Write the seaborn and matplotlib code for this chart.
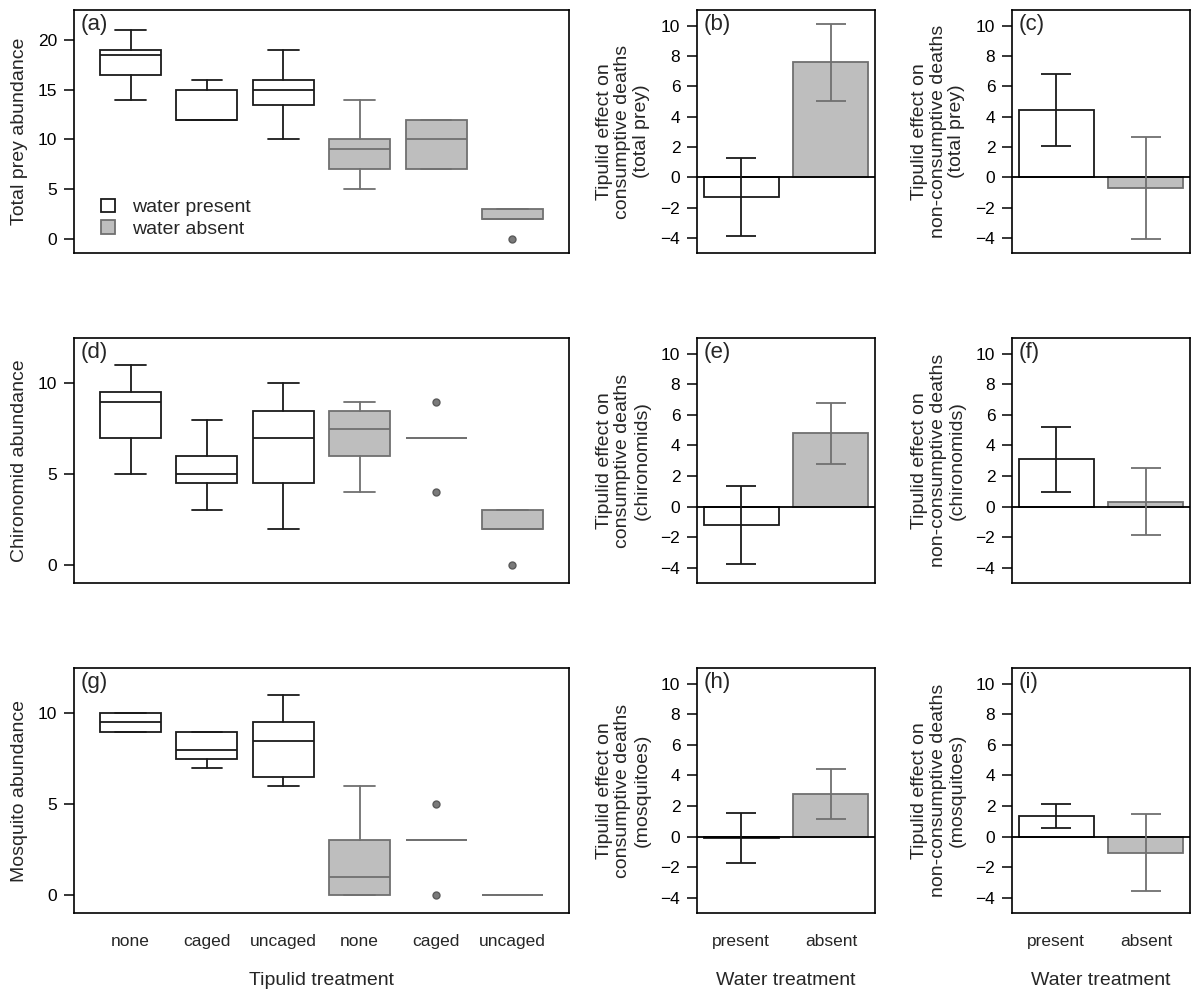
import matplotlib
matplotlib.use("Agg")
import matplotlib.pyplot as plt
import seaborn as sns
import pandas as pd
from matplotlib.patches import Patch

# ---------------- data ----------------
tipulid_labels = ["none", "caged", "uncaged", "none", "caged", "uncaged"]
water_of_box = ["present", "present", "present", "absent", "absent", "absent"]
water_levels = ["present", "absent"]

# five-number summaries: [whisker low, Q1, median, Q3, whisker high]
total_prey_stats = [
    [14, 16.5, 18.5, 19, 21],
    [12, 12, 12, 15, 16],
    [10, 13.5, 15, 16, 19],
    [5, 7, 9, 10, 14],
    [7, 7, 10, 12, 12],
    [2, 2, 2, 3, 3],
]
total_prey_fliers = [[], [], [], [], [], [0]]

chironomid_stats = [
    [5, 7, 9, 9.5, 11],
    [3, 4.5, 5, 6, 8],
    [2, 4.5, 7, 8.5, 10],
    [4, 6, 7.5, 8.5, 9],
    [7, 7, 7, 7, 7],
    [2, 2, 2, 3, 3],
]
chironomid_fliers = [[], [], [], [], [9, 4], [0]]

mosquito_stats = [
    [9, 9, 9.5, 10, 10],
    [7, 7.5, 8, 9, 9],
    [6, 6.5, 8.5, 9.5, 11],
    [0, 0, 1, 3, 6],
    [3, 3, 3, 3, 3],
    [0, 0, 0, 0, 0],
]
mosquito_fliers = [[], [], [], [], [5, 0], []]

# tipulid effect on consumptive deaths: mean, lower, upper
cons_total_mean = [-1.3, 7.6]
cons_total_low = [-3.9, 5.05]
cons_total_high = [1.25, 10.1]
cons_chiro_mean = [-1.2, 4.8]
cons_chiro_low = [-3.75, 2.8]
cons_chiro_high = [1.35, 6.8]
cons_mosq_mean = [-0.1, 2.8]
cons_mosq_low = [-1.72, 1.18]
cons_mosq_high = [1.55, 4.42]

# tipulid effect on non-consumptive deaths
non_total_mean = [4.45, -0.72]
non_total_low = [2.07, -4.05]
non_total_high = [6.82, 2.62]
non_chiro_mean = [3.1, 0.32]
non_chiro_low = [0.98, -1.88]
non_chiro_high = [5.18, 2.52]
non_mosq_mean = [1.35, -1.05]
non_mosq_low = [0.55, -3.55]
non_mosq_high = [2.15, 1.48]

# ---------------- style ----------------
sns.set_style("ticks")
plt.rcParams["font.family"] = ["Liberation Sans", "DejaVu Sans"]
plt.rcParams["axes.linewidth"] = 1.2
plt.rcParams["axes.edgecolor"] = "black"

BLACK = "#1a1a1a"
GRAY_FILL = "#bebebe"
GRAY_LINE = "#707070"
LW = 1.3
TICK_FS = 12.5
LAB_FS = 14
LET_FS = 16

W, H = 1192, 993
fig = plt.figure(figsize=(W / 100, H / 100), dpi=100)


def px_axes(left, top, right, bottom):
    return fig.add_axes([left / W, 1 - bottom / H, (right - left) / W, (bottom - top) / H])


rows = [(10, 253), (338, 583), (668, 913)]
col_box = (74, 569)
col_cons = (697, 875)
col_non = (1012, 1190)


def style_axes(ax):
    for s in ax.spines.values():
        s.set_visible(True)
        s.set_color("black")
        s.set_linewidth(1.2)
    ax.tick_params(axis="y", direction="out", length=7, width=1.1, labelsize=TICK_FS,
                   pad=5, colors="black")
    ax.tick_params(axis="x", length=0, labelsize=TICK_FS, pad=15)


def letter(ax, txt):
    ax.annotate(txt, xy=(0, 1), xycoords="axes fraction", xytext=(5, -3),
                textcoords="offset points", ha="left", va="top", fontsize=LET_FS)


def draw_boxes(ax, stats, fliers):
    for i, (s, fl) in enumerate(zip(stats, fliers)):
        present = water_of_box[i] == "present"
        lc = BLACK if present else GRAY_LINE
        fc = "white" if present else GRAY_FILL
        d = dict(whislo=s[0], q1=s[1], med=s[2], q3=s[3], whishi=s[4], fliers=fl)
        ax.bxp([d], positions=[i + 1], widths=0.8, capwidths=0.4, patch_artist=True,
               manage_ticks=False,
               boxprops=dict(facecolor=fc, edgecolor=lc, linewidth=LW),
               whiskerprops=dict(color=lc, linewidth=LW),
               capprops=dict(color=lc, linewidth=LW),
               medianprops=dict(color=lc, linewidth=LW),
               flierprops=dict(marker="o", markersize=5, markerfacecolor="#7a7a7a",
                               markeredgecolor="#5a5a5a", markeredgewidth=1))
    ax.set_xlim(0.26, 6.74)
    ax.set_xticks(range(1, 7))


def draw_bars(ax, mean, low, high):
    df = pd.DataFrame({"water": water_levels, "effect": mean})
    sns.barplot(data=df, x="water", y="effect", hue="water", order=water_levels,
                hue_order=water_levels,
                palette={"present": "white", "absent": GRAY_FILL},
                width=1 / 1.2, errorbar=None, legend=False, linewidth=LW, ax=ax)
    edge = [BLACK, GRAY_LINE]
    for p, c in zip(ax.patches, edge):
        p.set_edgecolor(c)
        p.set_linewidth(LW)
    ax.axhline(0, color="black", linewidth=LW, zorder=3)
    for j, w in enumerate(water_levels):
        c = edge[j]
        ax.errorbar([j], [mean[j]], yerr=[[mean[j] - low[j]], [high[j] - mean[j]]],
                    fmt="none", ecolor=c, elinewidth=LW, capsize=10.5, capthick=LW, zorder=4)
    ax.set_xlim(-0.49, 1.49)
    ax.set_ylim(-5.0, 11.03)
    ax.set_yticks([-4, -2, 0, 2, 4, 6, 8, 10])
    ax.set_xlabel("")
    ax.set_ylabel("")


def ylab(ax, txt, xpx_from_left, width_px):
    ax.text(-xpx_from_left / width_px, 0.5, txt, transform=ax.transAxes, rotation=90,
            ha="center", va="center", multialignment="center", fontsize=LAB_FS,
            linespacing=1.15)


box_data = [
    (total_prey_stats, total_prey_fliers, "Total prey abundance", (-1.4, 23.0), [0, 5, 10, 15, 20], "(a)"),
    (chironomid_stats, chironomid_fliers, "Chironomid abundance", (-1.0, 12.5), [0, 5, 10], "(d)"),
    (mosquito_stats, mosquito_fliers, "Mosquito abundance", (-1.0, 12.5), [0, 5, 10], "(g)"),
]
cons_data = [
    (cons_total_mean, cons_total_low, cons_total_high, "total prey", "(b)"),
    (cons_chiro_mean, cons_chiro_low, cons_chiro_high, "chironomids", "(e)"),
    (cons_mosq_mean, cons_mosq_low, cons_mosq_high, "mosquitoes", "(h)"),
]
non_data = [
    (non_total_mean, non_total_low, non_total_high, "total prey", "(c)"),
    (non_chiro_mean, non_chiro_low, non_chiro_high, "chironomids", "(f)"),
    (non_mosq_mean, non_mosq_low, non_mosq_high, "mosquitoes", "(i)"),
]

for r, (top, bottom) in enumerate(rows):
    last = r == 2
    # boxplot panel
    ax = px_axes(col_box[0], top, col_box[1], bottom)
    stats, fl, lab, ylim, yt, let = box_data[r]
    draw_boxes(ax, stats, fl)
    ax.set_ylim(*ylim)
    ax.set_yticks(yt)
    style_axes(ax)
    ylab(ax, lab, col_box[0] - 20, col_box[1] - col_box[0])
    letter(ax, let)
    if last:
        ax.set_xticklabels(tipulid_labels)
        ax.set_xlabel("Tipulid treatment", fontsize=LAB_FS, labelpad=17)
    else:
        ax.set_xticklabels([])
    if r == 0:
        handles = [Patch(facecolor="white", edgecolor=BLACK, linewidth=LW),
                   Patch(facecolor=GRAY_FILL, edgecolor=GRAY_LINE, linewidth=LW)]
        ax.legend(handles, ["water present", "water absent"], loc="lower left",
                  bbox_to_anchor=(0.038, 0.03), frameon=False, fontsize=14,
                  handlelength=0.72, handleheight=0.72, handletextpad=0.9,
                  labelspacing=0.2, borderaxespad=0)

    # effect panels
    for cols, data, kind in [(col_cons, cons_data, "consumptive"), (col_non, non_data, "non-consumptive")]:
        ax = px_axes(cols[0], top, cols[1], bottom)
        mean, low, high, prey, let = data[r]
        draw_bars(ax, mean, low, high)
        style_axes(ax)
        ylab(ax, f"Tipulid effect on\n{kind} deaths\n({prey})", 74, cols[1] - cols[0])
        letter(ax, let)
        if last:
            ax.set_xticks([0, 1])
            ax.set_xticklabels(water_levels)
            ax.set_xlabel("Water treatment", fontsize=LAB_FS, labelpad=17)
        else:
            ax.set_xticklabels([])

fig.savefig("out.png", dpi=100)
